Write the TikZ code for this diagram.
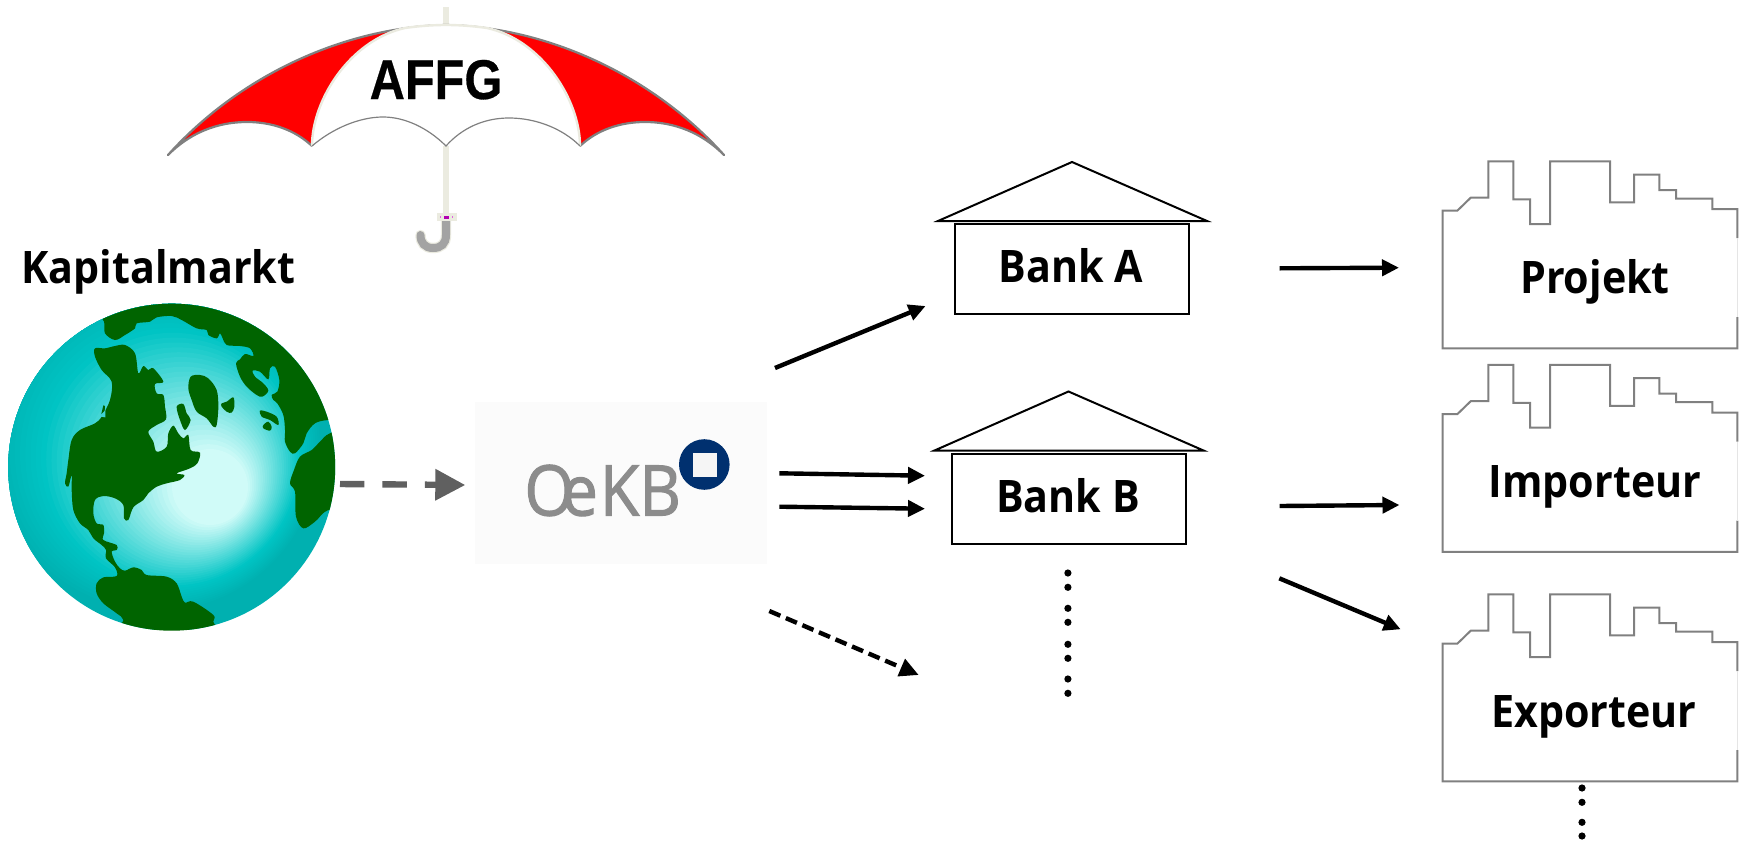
\documentclass[tikz,border=0pt]{standalone}
\usepackage{fontspec}
\usetikzlibrary{arrows.meta}
\setmainfont{Open Sans}
\newfontfamily\affgfont[BoldFeatures={FakeBold=0.5}]{Liberation Sans}
\newfontfamily\logofont[FakeBold=1.6]{Open Sans}
\definecolor{ivory}{HTML}{EBEBE0}
\definecolor{umbgrey}{HTML}{808080}
\definecolor{landgreen}{HTML}{006400}
\definecolor{gloA}{HTML}{D0FBF8}
\definecolor{gloB}{HTML}{00C4C4}
\definecolor{gloC}{HTML}{00B0B0}
\definecolor{darkarrow}{HTML}{606060}
\definecolor{logogrey}{HTML}{8C8C8C}
\definecolor{logoblue}{HTML}{00306F}
\newcommand{\narrowlab}[1]{\scalebox{.92}[1]{#1}}
\tikzset{
  lab/.style={anchor=base,inner sep=0pt,font=\fontsize{22.4}{26}\selectfont\bfseries},
  conn/.style={black,line width=2.2pt,-{Triangle[length=8.5pt,width=8pt]}},
  dashconn/.style={black,line width=2.2pt,dash pattern=on 6pt off 3pt,-{Triangle[length=9.5pt,width=9pt]}},
  greyconn/.style={darkarrow,line width=3.2pt,dash pattern=on 12.2pt off 9pt,-{Triangle[length=15pt,width=15pt]}},
  dotnode/.style={circle,fill=black,inner sep=0pt,minimum size=3.6pt},
  roofline/.style={black,line width=1pt,line join=miter},
  plantline/.style={umbgrey,line width=1pt,line join=miter},
  bankbox/.style={draw=black,line width=1pt,minimum width=117pt,minimum height=45pt,inner sep=0pt},
  land/.style={fill=landgreen,draw=none},
  bigland/.style={smooth cycle,tension=0.55},
}
\newcommand{\bankroof}[2]{%
  \begin{scope}[shift={(#1,#2)}]
    \draw[roofline] (938,221) -- (1072,162) -- (1207,221) -- cycle;
  \end{scope}}
\newcommand{\plantoutline}[1]{%
  \begin{scope}[shift={(0,#1)}]
    \draw[plantline] (1737.3,238) -- (1737.3,209) -- (1712.3,209) -- (1712.3,198.7) -- (1676,198.7) -- (1676,190) -- (1659.3,190) -- (1659.3,174.7) -- (1634,174.7) -- (1634,202.3) -- (1610,202.3) -- (1610,161.3) -- (1550,161.3) -- (1550,224) -- (1530,224) -- (1530,199.3) -- (1513.3,199.3) -- (1513.3,161.3) -- (1488.3,161.3) -- (1488.3,197.7) -- (1470.7,197.7) -- (1457.3,210.7) -- (1442.7,210.7) -- (1442.7,348.3) -- (1737.3,348.3) -- (1737.3,317);
    \draw[umbgrey!20,line width=.8pt] (1737.3,238) -- (1737.3,317);
  \end{scope}}
\begin{document}
\begin{tikzpicture}[x=0.5pt,y=-0.5pt]
\useasboundingbox (0,0) rectangle (1740,846);

% ---------- umbrella
\draw[ivory,line width=3pt] (445.5,7) -- (445.5,26);
\draw[ivory,line width=3pt] (445.5,146) -- (445.5,214);
% red panels
\fill[red] (168,155) .. controls (240,75) and (345,27) .. (446,25)
  -- (332,90) -- (312,146)
  .. controls (295,130) and (272,122) .. (247,122)
  .. controls (225,122) and (195,128) .. (168,155) -- cycle;
\fill[red] (724,155) .. controls (652,75) and (547,27) .. (446,25)
  -- (560,90) -- (580,146)
  .. controls (597,130) and (620,122) .. (645,122)
  .. controls (667,122) and (697,128) .. (724,155) -- cycle;
% grey edges
\draw[umbgrey,line width=1.1pt,line join=round]
  (312,146) .. controls (295,130) and (272,122) .. (247,122)
  .. controls (225,122) and (195,128) .. (168,155)
  .. controls (240,75) and (345,27) .. (446,25)
  .. controls (547,27) and (652,75) .. (724,155)
  .. controls (697,128) and (667,122) .. (645,122)
  .. controls (620,122) and (597,130) .. (580,146);
% white panel
\fill[white] (312,146) .. controls (312,100) and (350,40) .. (405,28)
  .. controls (433,24) and (459,24) .. (487,28)
  .. controls (542,40) and (580,100) .. (580,146)
  .. controls (562,128) and (535,118) .. (509,118)
  .. controls (484,118) and (462,128) .. (446,146)
  .. controls (428,128) and (405,117) .. (383,117)
  .. controls (360,117) and (333,128) .. (312,146) -- cycle;
\draw[ivory,line width=1.2pt] (312,146) .. controls (312,100) and (350,40) .. (405,28)
  .. controls (433,24) and (459,24) .. (487,28)
  .. controls (542,40) and (580,100) .. (580,146);
\draw[umbgrey,line width=.6pt] (580,146)
  .. controls (562,128) and (535,118) .. (509,118)
  .. controls (484,118) and (462,128) .. (446,146)
  .. controls (428,128) and (405,117) .. (383,117)
  .. controls (360,117) and (333,128) .. (312,146);
\node[font=\affgfont\fontsize{28}{30}\selectfont\bfseries,inner sep=0pt,anchor=base] (affg) at (436,99) {\scalebox{.87}[1]{AFFG}};
% handle
\draw[ivory,line width=5.2pt,line cap=round] (446,221) -- (446,235) .. controls (446,244) and (441,248) .. (433,248) .. controls (425,248) and (420.5,243) .. (420.5,235);
\draw[black!36,line width=4pt,line cap=round] (446,221) -- (446,235) .. controls (446,244) and (441,248) .. (433,248) .. controls (425,248) and (420.5,243) .. (420.5,235);
\fill[ivory] (436.7,213) rectangle (456.7,220.7);
\fill[violet!60!magenta] (443.5,215.5) rectangle (449,218.5);
\fill[violet!40!magenta!60] (440,215.8) rectangle (441,218.2);
\fill[violet!40!magenta!60] (451.5,215.8) rectangle (452.5,218.2);

% ---------- globe
\begin{scope}
  \clip (171.7,467.2) circle[radius=163.5];
  \fill[gloC] (0,300) rectangle (340,630);
  \foreach \n in {35,34,...,0}{
    \pgfmathsetmacro{\t}{\n/25}
    \pgfmathsetmacro{\cx}{210-39*\t}
    \pgfmathsetmacro{\cy}{487-29*\t}
    \pgfmathsetmacro{\rr}{38+92*\t}
    \pgfmathtruncatemacro{\pa}{100-4*min(\n,25)}
    \pgfmathtruncatemacro{\pb}{100-10*max(\n-25,0)}
    \ifnum\n>25 \colorlet{gstep}{gloB!\pb!gloC}\else\colorlet{gstep}{gloA!\pa!gloB}\fi
    \fill[gstep] (\cx,\cy) circle[radius=\rr];
  }
  \begin{scope}[shift={(0,260)},x=0.16667pt,y=-0.16667pt]
    % arctic band
    \fill[land] plot[bigland] coordinates {(312,185) (315,220) (345,240) (375,225) (405,205) (410,190) (450,185) (470,172) (515,168) (545,180) (590,205) (620,210) (625,225) (650,235) (660,220) (668,235) (680,255) (720,258) (750,265) (760,288) (735,282) (720,298) (708,310) (720,350) (740,380) (770,405) (787,410) (805,392) (790,370) (765,350) (758,332) (780,335) (805,358) (810,325) (825,320) (838,360) (832,395) (815,405) (820,420) (832,430) (850,465) (855,510) (855,545) (870,575) (885,580) (910,550) (920,520) (945,490) (985,480) (1060,480) (1060,100) (300,100) (290,150)};
    % the Americas
    \fill[land] plot[bigland] coordinates {(285,265) (315,265) (345,258) (375,255) (405,280) (415,340) (430,318) (445,330) (460,325) (490,365) (465,372) (470,400) (490,405) (495,440) (498,478) (470,495) (445,515) (460,545) (470,575) (500,560) (505,520) (520,497) (535,520) (550,535) (565,525) (572,570) (600,578) (592,610) (570,625) (530,640) (553,645) (540,660) (500,670) (470,680) (445,700) (430,720) (400,742) (385,780) (372,775) (370,735) (345,715) (310,708) (285,720) (280,760) (290,790) (310,795) (312,820) (310,840) (350,855) (350,870) (335,875) (345,905) (360,925) (375,932) (400,922) (425,930) (440,945) (500,950) (530,970) (545,1010) (555,1028) (580,1025) (640,1065) (640,1085) (640,1130) (360,1130) (370,1080) (350,1060) (310,1030) (290,1000) (290,970) (310,952) (350,948) (345,922) (318,895) (318,870) (305,855) (280,835) (265,810) (240,790) (220,750) (215,690) (215,645) (205,680) (195,670) (200,640) (205,600) (215,540) (240,510) (285,490) (305,470) (330,420) (335,365) (305,330) (285,290)};
    \fill[gloB!70!gloA] (303,470) -- (308,438) -- (316,436) -- (316,472) -- cycle;
    \fill[land] (304,462) -- (310,436) -- (315,438) -- (314,452) -- cycle;
    % islands
    \fill[land] plot[bigland] coordinates {(572,350) (600,345) (625,355) (650,390) (655,440) (650,495) (640,500) (620,475) (590,455) (575,420) (565,385)};
    \fill[land] plot[bigland] coordinates {(530,440) (550,432) (560,460) (572,480) (555,510) (540,480)};
    \fill[land] plot[bigland] coordinates {(665,430) (680,425) (700,412) (703,440) (695,458) (680,455) (665,440)};
    \fill[land] plot[bigland] coordinates {(780,452) (800,455) (830,470) (835,495) (810,480) (785,470)};
    \fill[land] plot[bigland] coordinates {(790,495) (805,485) (815,500) (810,512) (790,505)};
    % Africa
    \fill[land] plot[bigland] coordinates {(935,570) (900,590) (882,630) (870,670) (885,695) (888,770) (910,805) (945,785) (985,750) (1060,750) (1060,510) (990,520) (960,545)};
  \end{scope}
\end{scope}
\node[lab] (kapital) at (158.5,283) {\narrowlab{Kapitalmarkt}};

% ---------- OeKB
\fill[black!1.6] (475,401.7) rectangle (766.7,564);
\node[anchor=base west,inner sep=0pt,text=logogrey,font=\logofont\fontsize{35}{38}\selectfont] (oekb) at (524,515.5) {\scalebox{.92}[1]{O\kern-.2em e\kern.03em KB}};
\fill[logoblue] (704.3,464.5) circle[radius=25.3];
\fill[white!96!black] (692.7,452.7) rectangle (716.7,476.7);

% ---------- banks
\bankroof{0}{0}
\node[bankbox] (bankA) at (1072,269) {};
\node[lab] (bankAl) at (1071,282) {\narrowlab{Bank A}};
\bankroof{-3.5}{229.5}
\node[bankbox] (bankB) at (1068.5,498.5) {};
\node[lab] (bankBl) at (1068,512) {\narrowlab{Bank B}};

% ---------- plants
\plantoutline{0}
\plantoutline{203.5}
\plantoutline{433}
\node[lab] (proj) at (1595,293) {\narrowlab{Projekt}};
\node[lab] (impo) at (1595,497) {\narrowlab{Importeur}};
\node[lab] (expo) at (1594,727) {\narrowlab{Exporteur}};

% ---------- connector ends
\coordinate (g1) at (340,484);   \coordinate (o0) at (465.3,485);
\coordinate (o1) at (775,368);   \coordinate (b1) at (925.6,306);
\coordinate (o2) at (779.3,473.3); \coordinate (b2) at (925,475.7);
\coordinate (o3) at (779.3,506.7); \coordinate (b3) at (925,508.7);
\coordinate (o4) at (769.3,611); \coordinate (b4) at (918.7,675);
\coordinate (a1) at (1279.7,268.3); \coordinate (p1) at (1399,267.7);
\coordinate (a2) at (1279.7,506);   \coordinate (p2) at (1399.5,505);
\coordinate (a3) at (1279.3,578.3); \coordinate (p3) at (1400.7,629.3);

\draw[greyconn] (g1) -- (o0);
\draw[conn] (o1) -- (b1);
\draw[conn] (o2) -- (b2);
\draw[conn] (o3) -- (b3);
\draw[dashconn] (o4) -- (b4);
\draw[conn] (a1) -- (p1);
\draw[conn] (a2) -- (p2);
\draw[conn] (a3) -- (p3);

% ---------- dots
\foreach \y [count=\i] in {573,587.3,608.3,622.3,644.3,658.3,679,693.3}
  \node[dotnode] (da\i) at (1067.9,\y) {};
\foreach \y [count=\i] in {788,802.3,822.3,836}
  \node[dotnode] (db\i) at (1582,\y) {};
\end{tikzpicture}
\end{document}
